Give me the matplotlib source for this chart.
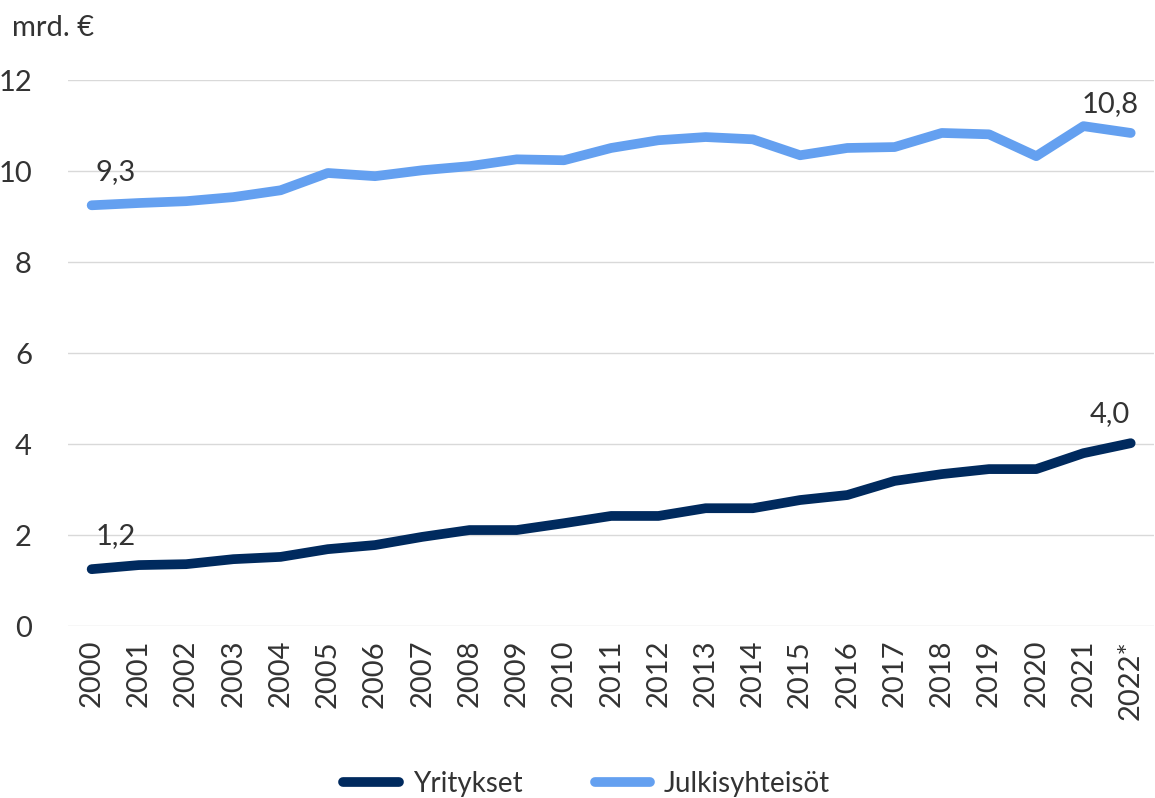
import numpy as np
import matplotlib.pyplot as plt

plt.rcParams['font.family'] = ['Lato', 'DejaVu Sans']

years = [str(y) for y in range(2000, 2022)] + ['2022*']
yritykset = [1.25, 1.34, 1.36, 1.47, 1.52, 1.69, 1.78, 1.96, 2.11, 2.11, 2.26,
             2.42, 2.42, 2.59, 2.59, 2.77, 2.88, 3.19, 3.34, 3.45, 3.45, 3.80, 4.02]
julkiset = [9.25, 9.30, 9.34, 9.43, 9.58, 9.96, 9.89, 10.02, 10.11, 10.26, 10.24,
            10.51, 10.68, 10.75, 10.70, 10.35, 10.51, 10.53, 10.84, 10.81, 10.33, 10.99, 10.84]
labels_y = {'first': '1,2', 'last': '4,0'}
labels_j = {'first': '9,3', 'last': '10,8'}

dark = '#002a5e'
light = '#64a0f0'
txt = '#333333'

fig = plt.figure(figsize=(11.55, 7.98), dpi=100)
ax = fig.add_axes([0.0589, 0.2155, 0.9405, 0.684])
x = np.arange(len(years))
ax.plot(x, yritykset, color=dark, lw=7, solid_capstyle='round', label='Yritykset')
ax.plot(x, julkiset, color=light, lw=7, solid_capstyle='round', label='Julkisyhteisöt')

for vals, labs in ((yritykset, labels_y), (julkiset, labels_j)):
    ax.annotate(labs['first'], (x[0], vals[0]), xytext=(17, 24), textcoords='offset points',
                ha='center', va='center', fontsize=21, color=txt)
    ax.annotate(labs['last'], (x[-1], vals[-1]), xytext=(-15, 21), textcoords='offset points',
                ha='center', va='center', fontsize=21, color=txt)

ax.set_xlim(-0.5, len(years) - 0.5)
ax.set_ylim(0, 12)
ax.set_yticks(range(0, 13, 2))
ax.set_xticks(x)
ax.set_xticklabels(years, rotation=90)
ax.tick_params(axis='both', length=0, labelsize=21, colors=txt, pad=10)
ax.tick_params(axis='y', pad=26)
ax.grid(axis='y', color='#d9d9d9', lw=1)
ax.set_axisbelow(True)
for s in ax.spines.values():
    s.set_visible(False)

fig.text(0.01, 0.965, 'mrd. €', fontsize=21, color=txt, va='center')
leg = fig.legend(loc='center', bbox_to_anchor=(0.508, 0.018), ncol=2, frameon=False,
                 fontsize=20, handlelength=2.0, columnspacing=2.6, handletextpad=0.5)
for t in leg.get_texts():
    t.set_color(txt)

fig.savefig('out.png', dpi=100)
